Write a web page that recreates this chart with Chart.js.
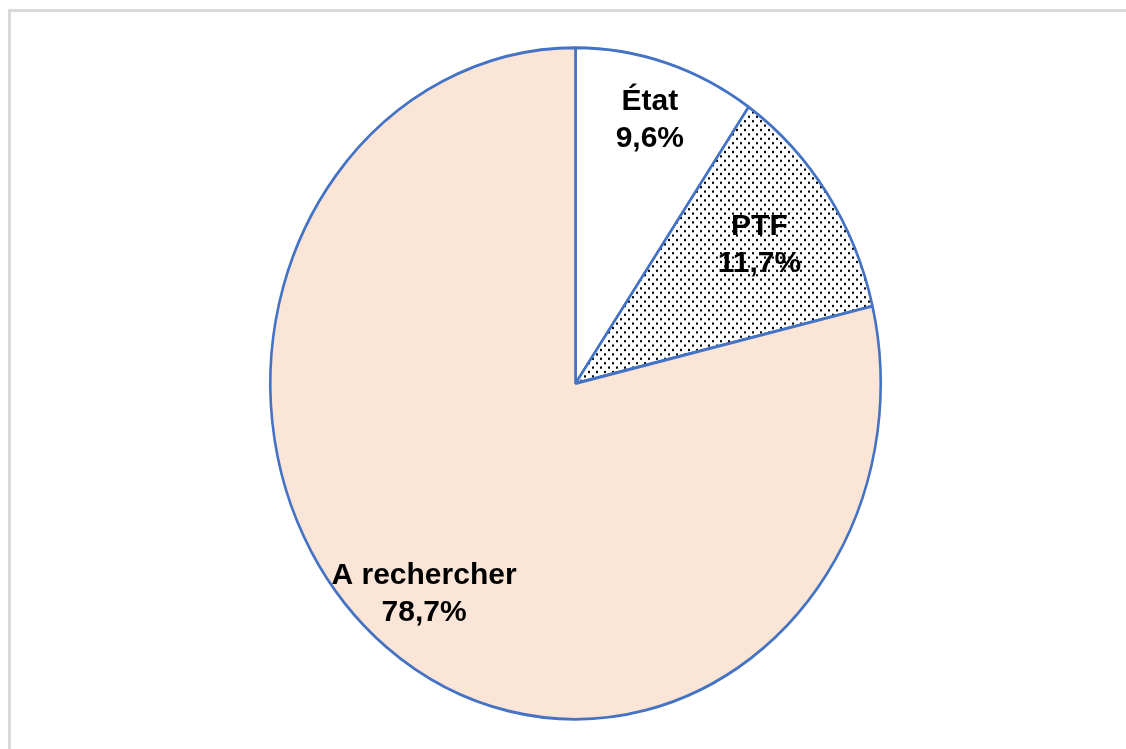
<!DOCTYPE html>
<html>
<head>
<meta charset="utf-8">
<script src="https://cdn.jsdelivr.net/npm/chart.js@4"></script>
<style>
    body { margin: 0; background: #ffffff; }
    #cadre { position: absolute; left: 8px; top: 9px; width: 1200px; height: 800px; border: 3px solid #d9d9d9; }
    #zone { position: absolute; left: 0; top: 0; width: 1126px; height: 749px; }
</style>
</head>
<body>
<div id="cadre"></div>
<div id="zone"><canvas id="chart" width="1126" height="749"></canvas></div>
<script>
var categories = ['État', 'PTF', 'A rechercher'];
var valeurs = [9.6, 11.7, 78.7];

// motif pointillé pour PTF
function motif_points() {
    var c = document.createElement('canvas');
    c.width = 8;
    c.height = 8;
    var x = c.getContext('2d');
    x.fillStyle = '#ffffff';
    x.fillRect(0, 0, 8, 8);
    x.fillStyle = '#000000';
    x.fillRect(0, 0, 2, 2);
    x.fillRect(4, 4, 2, 2);
    return x.createPattern(c, 'repeat');
}

var etirement = 1.1; // camembert ovale (plus haut que large)
var rayonsEtiquettes = [0.82, 0.73, 0.80];

var ovale = {
    id: 'ovale',
    beforeDatasetsDraw: function (chart) {
        var arc = chart.getDatasetMeta(0).data[0];
        var ctx = chart.ctx;
        ctx.save();
        ctx.translate(arc.x, arc.y);
        ctx.scale(1, etirement);
        ctx.translate(-arc.x, -arc.y);
    },
    afterDatasetsDraw: function (chart) {
        chart.ctx.restore();
    }
};

var etiquettes = {
    id: 'etiquettes',
    afterDraw: function (chart) {
        var ctx = chart.ctx;
        var arcs = chart.getDatasetMeta(0).data;
        ctx.save();
        ctx.fillStyle = '#000000';
        ctx.font = 'bold 30px "Liberation Sans", Arial, sans-serif';
        ctx.textAlign = 'center';
        ctx.textBaseline = 'middle';
        for (var i = 0; i < arcs.length; i++) {
            var a = arcs[i];
            var milieu = (a.startAngle + a.endAngle) / 2;
            var r = a.outerRadius * rayonsEtiquettes[i];
            var px = a.x + Math.cos(milieu) * r;
            var py = a.y + Math.sin(milieu) * r * etirement;
            var pourcent = valeurs[i].toFixed(1).replace('.', ',') + '%';
            ctx.fillText(categories[i], px, py - 18.5);
            ctx.fillText(pourcent, px, py + 18.5);
        }
        ctx.restore();
    }
};

var datos = {
    type: 'pie',
    data: {
        labels: categories,
        datasets: [{
            data: valeurs,
            backgroundColor: ['#ffffff', motif_points(), '#fbe5d6'],
            borderColor: '#4472c4',
            borderWidth: 2.6,
            borderAlign: 'center',
            hoverOffset: 0,
            offset: 0
        }]
    },
    options: {
        responsive: false,
        animation: false,
        layout: {
            padding: { left: 269, right: 244, top: 77, bottom: 59 }
        },
        plugins: {
            legend: { display: false },
            tooltip: { enabled: false },
            title: { display: false }
        }
    },
    plugins: [ovale, etiquettes]
};

var canvas = document.getElementById('chart').getContext('2d');
window.pie = new Chart(canvas, datos);
</script>
</body>
</html>
